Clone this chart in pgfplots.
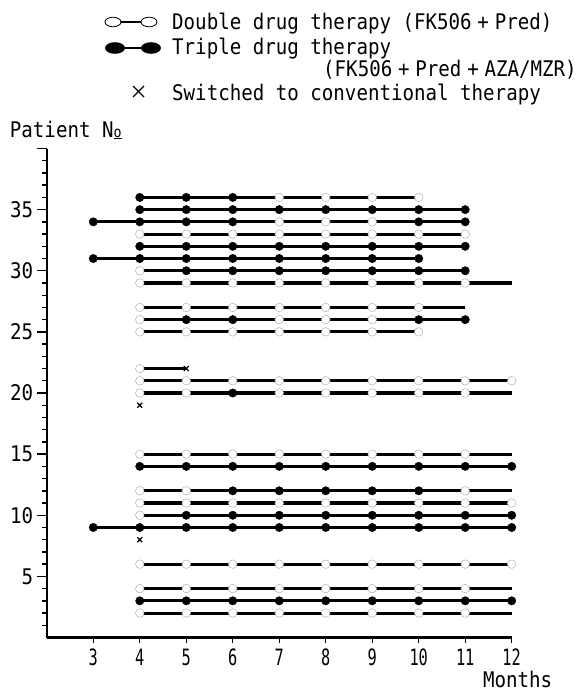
\documentclass[border=0pt]{standalone}
\usepackage{pgfplots}
\pgfplotsset{compat=1.18}
\usepackage{fontspec}
\setmainfont{DejaVu Sans Mono}[FakeStretch=0.89]
\newfontfamily\tallfont{DejaVu Sans Mono}[FakeStretch=0.68]
\newcommand\bigfont{\fontsize{21.5}{26}\selectfont}
\newcommand\plus{\makebox[23.1pt]{+}}

\begin{document}
\begin{tikzpicture}
\path[use as bounding box] (0pt,0pt) rectangle (581pt,-693pt);
\begin{axis}[
    at={(46.8pt,-637.5pt)}, anchor=south west,
    width=464.9pt, height=489pt, scale only axis,
    xmin=2, xmax=12, ymin=0, ymax=40,
    axis x line=bottom, axis y line=left,
    axis line style={-, line width=2.4pt},
    xtick={3,...,12},
    ytick={5,10,...,40},
    yticklabels={5,10,15,20,25,30,35,{}},
    minor ytick={1,...,39},
    tick align=outside,
    major tick length=10pt, minor tick length=5pt,
    xtick style={/pgfplots/major tick length=5pt},
    tick style={black, line width=1.4pt},
    /pgf/number format/assume math mode=true,
    yticklabel style={font=\bigfont},
    xticklabel style={font=\tallfont\fontsize{22.5}{25}\selectfont, yshift=2pt},
    xlabel={\bigfont Months},
    xlabel style={at={(axis description cs:1,0)}, anchor=center, inner sep=0pt, xshift=6pt, yshift=-42pt},
    ylabel={\bigfont Patient N{\fontsize{15}{15}\selectfont\underline{o}}},
    ylabel style={at={(axis description cs:0,1)}, rotate=-90, anchor=center, xshift=19pt, yshift=18.5pt},
    unbounded coords=jump,
    clip=false,
]
% treatment periods, one segment per patient
\addplot[black, line width=3.1pt] coordinates {
 (4,36) (10,36) (nan,36)
 (4,35) (11,35) (nan,35)
 (3,34) (11,34) (nan,34)
 (4,33) (11,33) (nan,33)
 (4,32) (11,32) (nan,32)
 (3,31) (10,31) (nan,31)
 (4,30) (11,30) (nan,30)
 (4,29) (12,29) (nan,29)
 (4,27) (11,27) (nan,27)
 (4,26) (11,26) (nan,26)
 (4,25) (10,25) (nan,25)
 (4,22) (5,22) (nan,22)
 (4,21) (12,21) (nan,21)
 (4,20) (12,20) (nan,20)
 (4,15) (12,15) (nan,15)
 (4,14) (12,14) (nan,14)
 (4,12) (12,12) (nan,12)
 (4,11) (12,11) (nan,11)
 (4,10) (12,10) (nan,10)
 (3,9) (12,9) (nan,9)
 (4,6) (12,6) (nan,6)
 (4,4) (12,4) (nan,4)
 (4,3) (12,3) (nan,3)
 (4,2) (12,2)
};
% double drug therapy (open)
\addplot[only marks, mark=*, mark size=4.3pt, mark options={fill=white, draw=black!30, line width=0.5pt}] coordinates {
 (7,36) (8,36) (9,36) (10,36)
 (7,34) (8,34) (9,34)
 (4,33) (5,33) (6,33) (7,33) (8,33) (9,33) (10,33) (11,33)
 (4,30)
 (4,29) (5,29) (6,29) (7,29) (8,29) (9,29) (10,29) (11,29)
 (4,27) (5,27) (6,27) (7,27) (8,27) (9,27) (10,27)
 (4,26) (7,26) (8,26) (9,26)
 (4,25) (5,25) (6,25) (7,25) (8,25) (9,25) (10,25)
 (4,22)
 (4,21) (5,21) (6,21) (7,21) (8,21) (9,21) (10,21) (11,21) (12,21)
 (4,20) (5,20) (7,20) (8,20) (9,20) (10,20) (11,20)
 (4,15) (5,15) (6,15) (7,15) (8,15) (9,15) (10,15) (11,15)
 (4,12) (5,12) (11,12)
 (4,11) (5,11) (6,11) (7,11) (8,11) (9,11) (10,11) (11,11) (12,11)
 (4,10)
 (4,6) (5,6) (6,6) (7,6) (8,6) (9,6) (10,6) (11,6) (12,6)
 (4,4) (5,4) (6,4) (7,4) (8,4) (9,4) (10,4) (11,4)
 (4,2) (5,2) (6,2) (7,2) (8,2) (9,2) (10,2) (11,2)
};
% triple drug therapy (filled)
\addplot[only marks, mark=*, mark size=4.2pt, black] coordinates {
 (4,36) (5,36) (6,36)
 (4,35) (5,35) (6,35) (7,35) (8,35) (9,35) (10,35) (11,35)
 (3,34) (4,34) (5,34) (6,34) (10,34) (11,34)
 (4,32) (5,32) (6,32) (7,32) (8,32) (9,32) (10,32) (11,32)
 (3,31) (4,31) (5,31) (6,31) (7,31) (8,31) (9,31) (10,31)
 (5,30) (6,30) (7,30) (8,30) (9,30) (10,30) (11,30)
 (5,26) (6,26) (10,26) (11,26)
 (6,20)
 (4,14) (5,14) (6,14) (7,14) (8,14) (9,14) (10,14) (11,14) (12,14)
 (6,12) (7,12) (8,12) (9,12) (10,12)
 (5,10) (6,10) (7,10) (8,10) (9,10) (10,10) (11,10) (12,10)
 (3,9) (4,9) (5,9) (6,9) (7,9) (8,9) (9,9) (10,9) (11,9) (12,9)
 (4,3) (5,3) (6,3) (7,3) (8,3) (9,3) (10,3) (11,3) (12,3)
};
% switched to conventional therapy
\addplot[only marks, mark=x, mark size=3.5pt, black, line width=1.3pt] coordinates {
 (5,22) (4,19) (4,8)
};
\end{axis}

% legend
\draw[line width=1.6pt] (121pt,-22pt) -- (141pt,-22pt);
\draw[line width=0.8pt, fill=white] (113pt,-22pt) ellipse (8pt and 4.8pt);
\draw[line width=0.8pt, fill=white] (149pt,-22pt) ellipse (8pt and 4.8pt);
\draw[line width=1.6pt] (124pt,-48pt) -- (141pt,-48pt);
\fill (115pt,-48pt) ellipse (10pt and 5.8pt);
\fill (151pt,-48pt) ellipse (10pt and 5.8pt);
\draw[line width=1.1pt] (133pt,-86pt) -- (144pt,-97pt);
\draw[line width=1.1pt] (133pt,-97pt) -- (144pt,-86pt);
\node[anchor=base west, inner sep=0pt, font=\bigfont] at (172pt,-30pt) {Double drug therapy (FK506\plus Pred)};
\node[anchor=base west, inner sep=0pt, font=\bigfont] at (172pt,-55pt) {Triple drug therapy};
\node[anchor=base west, inner sep=0pt, font=\bigfont] at (323pt,-76pt) {(FK506\plus Pred\plus AZA/MZR)};
\node[anchor=base west, inner sep=0pt, font=\bigfont] at (172pt,-100pt) {Switched to conventional therapy};
\end{tikzpicture}
\end{document}
